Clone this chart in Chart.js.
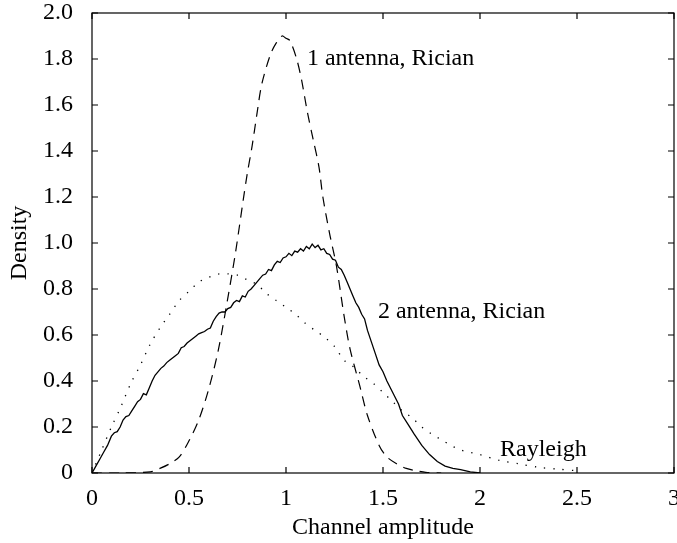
<!DOCTYPE html>
<html>
<head>
<meta charset="utf-8">
<script src="https://cdn.jsdelivr.net/npm/chart.js"></script>
<style>
  body { margin: 0; background: #fff; }
  #wrap { width: 677px; height: 543px; }
</style>
</head>
<body>
<div id="wrap"><canvas id="densityChart" width="677" height="543"></canvas></div>
<script>
// values
const ricianOneX = [0, 0.15, 0.30, 0.35, 0.40, 0.45, 0.50, 0.55, 0.60, 0.65, 0.70, 0.74, 0.78, 0.80, 0.825, 0.85, 0.875, 0.92, 0.95, 0.98, 1.00, 1.02, 1.055, 1.08, 1.11, 1.14, 1.17, 1.19, 1.225, 1.26, 1.30, 1.33, 1.38, 1.42, 1.48, 1.52, 1.57, 1.62, 1.67, 1.72, 1.80];
const ricianOneY = [0, 0, 0.005, 0.02, 0.04, 0.07, 0.14, 0.23, 0.36, 0.53, 0.76, 0.96, 1.19, 1.30, 1.42, 1.56, 1.69, 1.82, 1.87, 1.90, 1.89, 1.88, 1.80, 1.71, 1.57, 1.45, 1.33, 1.20, 1.04, 0.90, 0.68, 0.54, 0.38, 0.25, 0.12, 0.07, 0.04, 0.02, 0.01, 0.003, 0];

const ricianTwoX = [0, 0.02, 0.04, 0.06, 0.08, 0.10, 0.115, 0.13, 0.145, 0.16, 0.175, 0.19, 0.205, 0.22, 0.235, 0.25, 0.265, 0.28, 0.295, 0.31, 0.325, 0.34, 0.355, 0.37, 0.385, 0.40, 0.415, 0.43, 0.445, 0.46, 0.475, 0.49, 0.505, 0.52, 0.535, 0.55, 0.565, 0.58, 0.595, 0.61, 0.625, 0.64, 0.655, 0.67, 0.685, 0.70, 0.715, 0.73, 0.745, 0.76, 0.775, 0.79, 0.805, 0.82, 0.835, 0.85, 0.865, 0.88, 0.895, 0.91, 0.925, 0.94, 0.955, 0.97, 0.985, 1.00, 1.015, 1.03, 1.045, 1.06, 1.075, 1.09, 1.105, 1.12, 1.135, 1.15, 1.165, 1.18, 1.195, 1.21, 1.225, 1.24, 1.255, 1.27, 1.285, 1.30, 1.315, 1.33, 1.345, 1.36, 1.375, 1.39, 1.405, 1.42, 1.44, 1.46, 1.48, 1.50, 1.52, 1.55, 1.58, 1.60, 1.63, 1.66, 1.70, 1.74, 1.78, 1.82, 1.86, 1.90, 1.95, 2.00];
const ricianTwoY = [0, 0.03, 0.06, 0.09, 0.12, 0.16, 0.175, 0.18, 0.20, 0.23, 0.245, 0.25, 0.27, 0.29, 0.31, 0.32, 0.345, 0.34, 0.37, 0.40, 0.425, 0.44, 0.455, 0.465, 0.48, 0.49, 0.50, 0.51, 0.52, 0.545, 0.55, 0.565, 0.575, 0.585, 0.595, 0.605, 0.61, 0.615, 0.625, 0.63, 0.66, 0.68, 0.695, 0.70, 0.70, 0.715, 0.72, 0.74, 0.75, 0.745, 0.77, 0.765, 0.79, 0.80, 0.815, 0.83, 0.845, 0.86, 0.865, 0.885, 0.88, 0.905, 0.92, 0.915, 0.935, 0.94, 0.955, 0.945, 0.965, 0.96, 0.975, 0.965, 0.985, 0.975, 0.995, 0.98, 0.99, 0.97, 0.975, 0.955, 0.95, 0.93, 0.925, 0.895, 0.885, 0.86, 0.83, 0.80, 0.77, 0.74, 0.72, 0.69, 0.67, 0.62, 0.57, 0.52, 0.47, 0.44, 0.40, 0.35, 0.30, 0.25, 0.21, 0.17, 0.12, 0.08, 0.05, 0.03, 0.02, 0.015, 0.005, 0];

const rayleighX = [0, 0.05, 0.10, 0.15, 0.20, 0.25, 0.30, 0.35, 0.40, 0.45, 0.50, 0.55, 0.60, 0.65, 0.70, 0.75, 0.80, 0.85, 0.90, 0.95, 1.00, 1.05, 1.10, 1.15, 1.20, 1.25, 1.30, 1.35, 1.40, 1.45, 1.50, 1.55, 1.60, 1.65, 1.70, 1.75, 1.80, 1.85, 1.90, 1.95, 2.00, 2.10, 2.20, 2.30, 2.40, 2.50];
const rayleighY = [0, 0.10, 0.20, 0.29, 0.39, 0.47, 0.56, 0.63, 0.69, 0.75, 0.79, 0.83, 0.85, 0.865, 0.866, 0.86, 0.84, 0.82, 0.78, 0.75, 0.72, 0.69, 0.65, 0.62, 0.59, 0.55, 0.49, 0.46, 0.42, 0.39, 0.35, 0.31, 0.27, 0.24, 0.20, 0.17, 0.145, 0.12, 0.10, 0.09, 0.08, 0.055, 0.04, 0.025, 0.017, 0.01];

const xTicks = [0, 0.5, 1, 1.5, 2, 2.5, 3];
const yTicks = [0, 0.2, 0.4, 0.6, 0.8, 1.0, 1.2, 1.4, 1.6, 1.8, 2.0];

// curve labels: [text, x, y]
const curveLabels = [
    ["1 antenna, Rician", 1.108, 1.80],
    ["2 antenna, Rician", 1.474, 0.70],
    ["Rayleigh", 2.103, 0.10]
];

const FONT = "'Liberation Serif', 'DejaVu Serif', serif";

function pairs(xs, ys) {
    return xs.map((x, i) => ({x: x, y: ys[i]}));
}

// frame plus inward ticks on all four sides
const framePlugin = {
    id: 'frame',
    afterDatasetsDraw(chart) {
        const ctx = chart.ctx;
        const a = chart.chartArea;
        const xs = chart.scales.x, ys = chart.scales.y;
        ctx.save();
        ctx.strokeStyle = '#000';
        ctx.lineWidth = 1.2;
        ctx.strokeRect(a.left, a.top, a.right - a.left, a.bottom - a.top);
        const len = 6;
        ctx.beginPath();
        xTicks.forEach(v => {
            const px = xs.getPixelForValue(v);
            ctx.moveTo(px, a.bottom); ctx.lineTo(px, a.bottom - len);
            ctx.moveTo(px, a.top); ctx.lineTo(px, a.top + len);
        });
        yTicks.forEach(v => {
            const py = ys.getPixelForValue(v);
            ctx.moveTo(a.left, py); ctx.lineTo(a.left + len, py);
            ctx.moveTo(a.right, py); ctx.lineTo(a.right - len, py);
        });
        ctx.stroke();
        // curve labels
        ctx.fillStyle = '#000';
        ctx.font = "24px " + FONT;
        ctx.textAlign = 'left';
        ctx.textBaseline = 'middle';
        curveLabels.forEach(l => {
            ctx.fillText(l[0], xs.getPixelForValue(l[1]), ys.getPixelForValue(l[2]));
        });
        ctx.restore();
    }
};

// no extra room for labels hanging over the plot edges
function noEdgePadding(scale) {
    scale.paddingTop = 0;
    scale.paddingBottom = 0;
    scale.paddingLeft = 0;
    scale.paddingRight = 0;
}

const CHART = document.getElementById("densityChart");
let densityChart = new Chart(CHART, {
    type: 'line',
    data: {
        datasets: [
            {
                label: "1 antenna, Rician",
                data: pairs(ricianOneX, ricianOneY),
                borderColor: "#000",
                borderWidth: 1.2,
                borderDash: [10, 7],
                tension: 0.3,
                pointRadius: 0,
                fill: false
            },
            {
                label: "2 antenna, Rician",
                data: pairs(ricianTwoX, ricianTwoY),
                borderColor: "#000",
                borderWidth: 1.3,
                tension: 0,
                pointRadius: 0,
                fill: false
            },
            {
                label: "Rayleigh",
                data: pairs(rayleighX, rayleighY),
                borderColor: "#000",
                borderWidth: 1.3,
                borderDash: [1.3, 8],
                tension: 0.3,
                pointRadius: 0,
                fill: false
            }
        ]
    },
    options: {
        responsive: false,
        animation: false,
        layout: { padding: { top: 13, right: 3, left: 0, bottom: 0 } },
        plugins: {
            legend: { display: false },
            tooltip: { enabled: false }
        },
        scales: {
            x: {
                type: 'linear',
                min: 0,
                max: 3,
                afterFit(scale) { scale.height = 70; noEdgePadding(scale); },
                afterBuildTicks(scale) { scale.ticks = xTicks.map(v => ({value: v})); },
                grid: { display: false, drawTicks: false },
                border: { display: false },
                ticks: {
                    color: '#000',
                    padding: 11,
                    maxRotation: 0,
                    autoSkip: false,
                    font: { family: FONT, size: 24 },
                    callback: v => String(v)
                },
                title: {
                    display: true,
                    text: 'Channel amplitude',
                    color: '#000',
                    padding: { top: 0, bottom: 1 },
                    font: { family: FONT, size: 24 }
                }
            },
            y: {
                type: 'linear',
                min: 0,
                max: 2,
                afterFit(scale) { scale.width = 92; noEdgePadding(scale); },
                afterBuildTicks(scale) { scale.ticks = yTicks.map(v => ({value: v})); },
                grid: { display: false, drawTicks: false },
                border: { display: false },
                ticks: {
                    color: '#000',
                    padding: 19,
                    autoSkip: false,
                    font: { family: FONT, size: 24 },
                    callback: v => v === 0 ? '0' : v.toFixed(1)
                },
                title: {
                    display: true,
                    text: 'Density',
                    color: '#000',
                    padding: { top: 5, bottom: 0 },
                    font: { family: FONT, size: 24 }
                }
            }
        }
    },
    plugins: [framePlugin]
});
</script>
</body>
</html>
